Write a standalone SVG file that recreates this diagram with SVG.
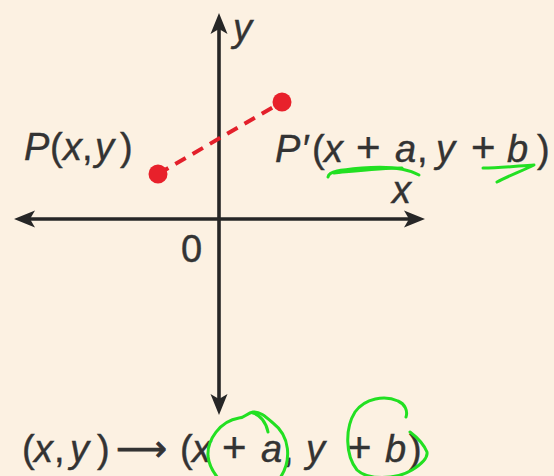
<svg xmlns="http://www.w3.org/2000/svg" width="554" height="476" viewBox="0 0 554 476">
<style>
.t{font-family:"Liberation Sans",Arial,sans-serif;font-size:38px;fill:#333;stroke:#333;stroke-width:0.4}
.i{font-style:italic}
.ax{stroke:#262626;stroke-width:3.6;fill:none}
.ink{stroke:#22e022;stroke-width:3;fill:none;stroke-linecap:round;stroke-linejoin:round}
</style>
<defs>
<marker id="ah" markerUnits="userSpaceOnUse" viewBox="-24 -10 26 20" refX="-14" refY="0" markerWidth="26" markerHeight="20" orient="auto-start-reverse" overflow="visible">
<path d="M0,0 L-21,-8.5 L-16,0 L-21,8.5 Z" fill="#262626"/>
</marker>
</defs>
<rect width="554" height="476" fill="#fcf1e2"/>
<g id="connectors">
<line class="ax" x1="219" y1="27" x2="219" y2="401" marker-start="url(#ah)" marker-end="url(#ah)"/>
<line class="ax" x1="28" y1="219" x2="411" y2="219" marker-start="url(#ah)" marker-end="url(#ah)"/>
<line x1="158" y1="174" x2="282" y2="102" stroke="#e3202b" stroke-width="4" stroke-dasharray="12 8"/>
</g>
<g id="axis-labels">
<text class="t i" x="233" y="41" font-size="36">y</text>
<text class="t i" x="392" y="203">x</text>
<text class="t" x="181" y="262">0</text>
</g>
<g id="P">
<circle cx="158" cy="174" r="9.5" fill="#e8212b"/>
<text class="t"><tspan class="i" x="24" y="160">P</tspan><tspan x="50">(</tspan><tspan class="i" x="63">x</tspan><tspan x="82">,</tspan><tspan class="i" x="95">y</tspan><tspan x="120">)</tspan></text>
</g>
<g id="P-prime">
<circle cx="282" cy="102" r="9.5" fill="#e8212b"/>
<text class="t"><tspan class="i" x="275" y="162">P</tspan><tspan x="303">′</tspan><tspan x="312">(</tspan><tspan class="i" x="324">x</tspan><tspan x="356" font-size="42">+</tspan><tspan class="i" x="395">a</tspan><tspan x="417">,</tspan><tspan class="i" x="436">y</tspan><tspan x="471" font-size="42">+</tspan><tspan class="i" x="507">b</tspan><tspan x="537">)</tspan></text>
</g>
<g id="rule">
<text class="t"><tspan x="22" y="462">(</tspan><tspan class="i" x="34">x</tspan><tspan x="54">,</tspan><tspan class="i" x="70">y</tspan><tspan x="97">)</tspan><tspan x="180">(</tspan><tspan class="i" x="192">x</tspan><tspan x="222" font-size="42">+</tspan><tspan class="i" x="261">a</tspan><tspan x="283">,</tspan><tspan class="i" x="306">y</tspan><tspan x="347" font-size="42">+</tspan><tspan class="i" x="385">b</tspan><tspan x="409">)</tspan></text>
<text x="116" y="461" font-family="DejaVu Sans,sans-serif" font-size="36" fill="#333" stroke="#333" stroke-width="0.8" textLength="51" lengthAdjust="spacingAndGlyphs">⟶</text>
</g>
<g id="annotations">
<path class="ink" d="M328,177 C329,171 340,170 362,168 C385,166 405,167 419,175"/>
<path class="ink" d="M334,173 C355,171 380,168 402,168"/>
<path class="ink" d="M483,168 C500,168 518,166 534,165 C522,171 508,176 497,182"/>
<path class="ink" d="M280,478 C292,460 290,436 273,423 C265,416 259,411 253,412 C247,413 245,418 239,418 C220,421 207,440 208,456 C209,466 213,472 218,478"/>
<path class="ink" d="M253,413 C260,415 266,422 268,432"/>
<path class="ink" d="M406,417 C408,411 405,404 398,401 C385,395 365,398 355,412 C345,428 345,455 357,470 C368,480 395,480 412,470 C420,465 428,458 427,452 C424,445 418,438 410,432"/>
</g>
</svg>
